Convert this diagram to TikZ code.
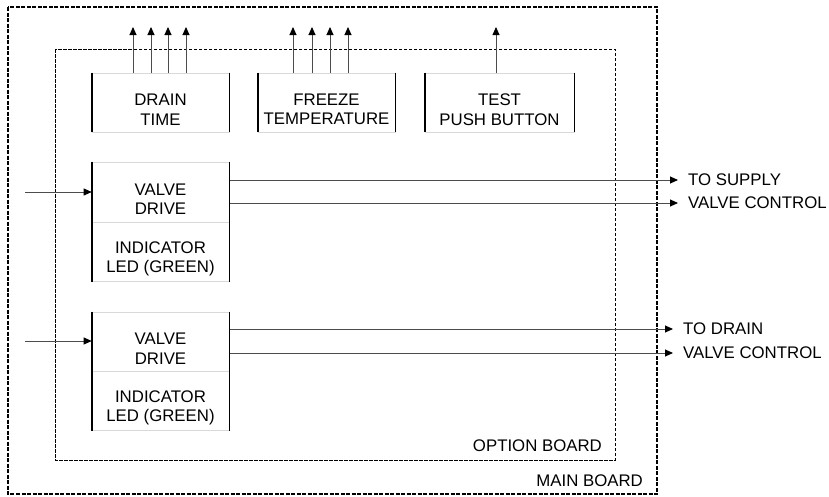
\documentclass[tikz,border=0pt]{standalone}
\usepackage{fontspec}
\setmainfont{Liberation Sans}
\usetikzlibrary{arrows.meta,positioning}
\begin{document}
\begin{tikzpicture}[x=1pt,y=-1pt,
    mainboard/.style={line width=1.5pt, dash pattern=on 4pt off 1.5pt},
    optboard/.style={line width=0.8pt, dash pattern=on 3.5pt off 1.5pt},
    blk/.style={draw=black!15, fill=white, line width=0.6pt, minimum width=137pt, inner sep=0pt},
    txt/.style={align=center, font=\fontsize{16.8}{19.5}\selectfont, inner sep=0pt},
    lbl/.style={font=\fontsize{16.8}{19.5}\selectfont, inner sep=0pt},
    sig/.style={draw=black!70, line width=0.9pt, -{Triangle[length=8pt,width=7pt,color=black]}},
    side/.style={line width=1.6pt}]
    \useasboundingbox (0,0) rectangle (829,496);

    % the two boards
    \draw[mainboard] (8,7) rectangle (657,494);
    \draw[optboard] (55,49) rectangle (615,460);
    \node[lbl, anchor=east] (optl) at (602,446) {OPTION BOARD};
    \node[lbl, anchor=east] (mainl) at (643,481) {MAIN BOARD};

    % settings along the top
    \node[blk, minimum height=59pt] (dt) at (160.5,102.5) {};
    \node[blk, minimum height=59pt] (ft) at (326.5,102.5) {};
    \node[blk, minimum width=149pt, minimum height=59pt] (pb) at (499.5,102.5) {};
    \node[txt] (dtt) at ([yshift=-7pt]dt.center) {DRAIN\\TIME};
    \node[txt] (ftt) at ([yshift=-7pt]ft.center) {FREEZE\\TEMPERATURE};
    \node[txt] (pbt) at ([yshift=-7pt]pb.center) {TEST\\PUSH BUTTON};

    \coordinate (top) at (0,27);
    \foreach \x in {133,151,168,186} \draw[sig] (\x,0 |- dt.north) -- (\x,0 |- top);
    \foreach \x in {293,312,330,348} \draw[sig] (\x,0 |- ft.north) -- (\x,0 |- top);
    \draw[sig] (496,0 |- pb.north) -- (496,0 |- top);

    % supply valve
    \node[blk, minimum height=60pt] (vd1) at (160.5,192) {};
    \node[blk, minimum height=59pt, below=0pt of vd1] (led1) {};
    \node[txt] (vd1t) at ([yshift=-7pt]vd1.center) {VALVE\\DRIVE};
    \node[txt] (led1t) at ([yshift=-7pt]led1.center) {INDICATOR\\LED (GREEN)};

    \coordinate (in1) at (25,192);
    \draw[sig] (in1) -- (vd1.west);
    \coordinate (sup1) at (678,180);
    \coordinate (sup2) at (678,203);
    \draw[sig] (vd1.east |- sup1) -- (sup1);
    \draw[sig] (vd1.east |- sup2) -- (sup2);
    \node[lbl, anchor=west] (sup1l) at ([xshift=10pt]sup1) {TO SUPPLY};
    \node[lbl, anchor=west] (sup2l) at ([xshift=10pt]sup2) {VALVE CONTROL};

    % drain valve
    \node[blk, minimum height=59pt] (vd2) at (160.5,341.5) {};
    \node[blk, minimum height=59pt, below=0pt of vd2] (led2) {};
    \node[txt] (vd2t) at ([yshift=-7pt]vd2.center) {VALVE\\DRIVE};
    \node[txt] (led2t) at ([yshift=-7pt]led2.center) {INDICATOR\\LED (GREEN)};

    \coordinate (in2) at (25,341);
    \draw[sig] (in2) -- (vd2.west |- in2);
    \coordinate (drn1) at (673,329);
    \coordinate (drn2) at (673,353);
    \draw[sig] (vd2.east |- drn1) -- (drn1);
    \draw[sig] (vd2.east |- drn2) -- (drn2);
    \node[lbl, anchor=west] (drn1l) at ([xshift=10pt]drn1) {TO DRAIN};
    \node[lbl, anchor=west] (drn2l) at ([xshift=10pt]drn2) {VALVE CONTROL};

    % heavy sides of the blocks
    \foreach \b in {dt,ft,pb} {
        \draw[side] (\b.north west) -- (\b.south west);
        \draw[side] (\b.north east) -- (\b.south east);
    }
    \draw[side] (vd1.north west) -- (led1.south west);
    \draw[side] (vd1.north east) -- (led1.south east);
    \draw[side] (vd2.north west) -- (led2.south west);
    \draw[side] (vd2.north east) -- (led2.south east);
\end{tikzpicture}
\end{document}
